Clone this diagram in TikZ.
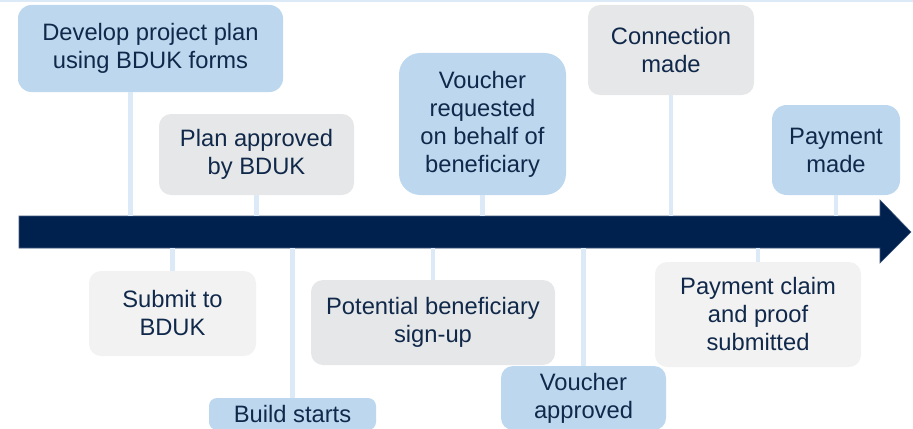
\documentclass[tikz,border=0pt]{standalone}
\usepackage{fontspec}
\setmainfont{Liberation Sans}
\usepackage{xcolor}
\usepackage{tikz}

\definecolor{navy}{HTML}{00214E}
\definecolor{inkblue}{HTML}{10284A}
\definecolor{paleblue}{HTML}{BDD7EE}
\definecolor{stemblue}{HTML}{DCE9F6}
\definecolor{midgrey}{HTML}{E6E7E8}
\definecolor{lightgrey}{HTML}{F2F2F2}

\tikzset{
  card/.style={rounded corners=9pt, text=inkblue, align=center, inner sep=0pt,
               font=\fontsize{17.8}{21}\selectfont},
  boxsize/.style 2 args={minimum width=#1*0.75pt, minimum height=#2*0.75pt},
  stem/.style={draw=stemblue, line width=3.6pt},
}

\begin{document}
\begin{tikzpicture}[x=0.75pt, y=-0.75pt]
        \useasboundingbox (0,0) rectangle (913,428);
        \clip (0,0) rectangle (913,428);
        \fill[stemblue] (0,0) rectangle (913,2);

        % above the line
        \node (dev) [card, fill=paleblue, boxsize={265}{87}, rounded corners=10pt] at (150.5,48.5) {Develop project plan\\using BDUK forms};
        \node (planok) [card, fill=midgrey, boxsize={195}{81}] at (256.5,154.5) {Plan approved\\by BDUK};
        \node (vreq) [card, fill=paleblue, boxsize={167}{142}, rounded corners=16pt] at (482.5,124) {Voucher\\requested\\on behalf of\\beneficiary};
        \node (conn) [card, fill=midgrey, boxsize={166}{90}] at (671,50) {Connection\\made};
        \node (paymade) [card, fill=paleblue, boxsize={128}{90}, rounded corners=11pt] at (836,150) {Payment\\made};

        % below the line
        \node (submit) [card, fill=lightgrey, boxsize={167}{85}] at (172.5,313.5) {Submit to\\BDUK};
        \node (build) [card, fill=paleblue, boxsize={167}{32}, rounded corners=6pt] at (292.5,414) {Build starts};
        \node (potential) [card, fill=midgrey, boxsize={244}{85}] at (433,322.5) {Potential beneficiary\\sign-up};
        \node (vappr) [card, fill=paleblue, boxsize={165}{64}] at (583.5,398) {Voucher\\approved};
        \node (claim) [card, fill=lightgrey, boxsize={206}{105}] at (758,314.5) {Payment claim\\and proof\\submitted};

        % timeline
        \fill[navy, draw=navy!75!white, line width=0.4pt] (19,216) -- (880,216) -- (880,200) -- (911,232)
            -- (880,263) -- (880,248) -- (19,248) -- cycle;
        \coordinate (shafttop) at (19,216);
        \coordinate (shaftbot) at (19,248);

        \draw[stem] ([xshift=-15pt]dev.south) -- ([xshift=-15pt]dev.south |- shafttop);
        \foreach \n in {planok,vreq,conn,paymade}
            \draw[stem] (\n.south) -- (\n.south |- shafttop);
        \foreach \n in {submit,build,potential,vappr,claim}
            \draw[stem] (\n.north) -- (\n.north |- shaftbot);
    \end{tikzpicture}
\end{document}
